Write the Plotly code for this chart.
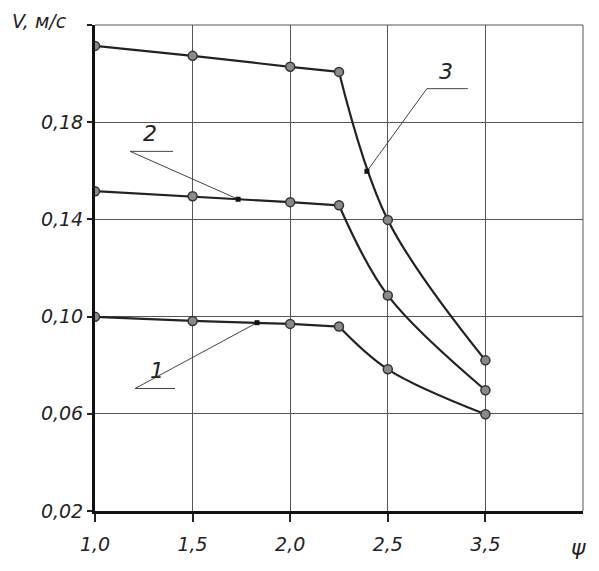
import plotly.graph_objects as go

# psi positions on the chart (last grid line is labelled "3,5" in the source)
psi = [1.0, 1.5, 2.0, 2.25, 2.5, 3.0]
v1 = [0.0999, 0.0982, 0.0970, 0.0959, 0.0783, 0.0598]
v2 = [0.1516, 0.1495, 0.1471, 0.1458, 0.1087, 0.0697]
v3 = [0.2114, 0.2073, 0.2028, 0.2007, 0.1398, 0.0820]

x_tickvals = [1.0, 1.5, 2.0, 2.5, 3.0]
x_ticktext = ["1,0", "1,5", "2,0", "2,5", "3,5"]
y_tickvals = [0.02, 0.06, 0.10, 0.14, 0.18]
y_ticktext = ["0,02", "0,06", "0,10", "0,14", "0,18"]

font = "DejaVu Sans"
line_style = dict(color="#222", width=2.2)

fig = go.Figure()
for v in [v1, v2, v3]:
    # straight part up to the break point, curved part after it
    fig.add_trace(go.Scatter(
        x=psi[:4], y=v[:4], mode="lines", line=line_style,
        showlegend=False, hoverinfo="skip",
    ))
    fig.add_trace(go.Scatter(
        x=psi[3:], y=v[3:], mode="lines",
        line=dict(line_style, shape="spline", smoothing=1.0),
        showlegend=False, hoverinfo="skip",
    ))
    fig.add_trace(go.Scatter(
        x=psi, y=v, mode="markers",
        marker=dict(size=9, color="#8a8a8a", line=dict(color="#333", width=1.5)),
        showlegend=False, hoverinfo="skip",
    ))

# leader lines for curve numbers: (text x, text y, shelf x0, shelf x1, shelf y, tip x, tip y)
leaders = [
    ("1", 1.32, 0.0778, 1.205, 1.41, 0.0704, 1.83, 0.0975),
    ("2", 1.28, 0.1755, 1.18, 1.40, 0.168, 1.733, 0.1483),
    ("3", 2.80, 0.2007, 2.70, 2.91, 0.1938, 2.393, 0.1598),
]
for t, tx, ty, sx0, sx1, sy, px, py in leaders:
    fig.add_trace(go.Scatter(
        x=[sx1, sx0, px], y=[sy, sy, py], mode="lines",
        line=dict(color="#444", width=1), showlegend=False, hoverinfo="skip",
    ))
    fig.add_trace(go.Scatter(
        x=[px], y=[py], mode="markers",
        marker=dict(size=5, color="#111", symbol="square"),
        showlegend=False, hoverinfo="skip",
    ))
    fig.add_annotation(x=tx, y=ty, text="<i>%s</i>" % t, showarrow=False,
                       font=dict(family=font, size=22, color="#222"))

fig.add_annotation(xref="paper", yref="paper", x=-0.175, y=1.034, xanchor="left", yanchor="top",
                   text="<i>V, м/с</i>", showarrow=False,
                   font=dict(family=font, size=19, color="#222"))
fig.add_annotation(xref="paper", yref="paper", x=1.01, y=-0.045, xanchor="right", yanchor="top",
                   text="<i>ψ</i>", showarrow=False,
                   font=dict(family=font, size=22, color="#222"))

fig.update_xaxes(
    range=[1.0, 3.5], tickvals=x_tickvals, ticktext=["<i>%s</i>" % s for s in x_ticktext],
    showgrid=True, gridcolor="#555", gridwidth=1,
    showline=True, linecolor="#111", linewidth=3,
    ticks="outside", ticklen=8, tickwidth=2, tickcolor="#222",
    ticklabelstandoff=6,
    tickfont=dict(family=font, size=19, color="#222"),
    zeroline=False,
)
fig.update_yaxes(
    range=[0.02, 0.22], tickvals=y_tickvals + [0.22],
    ticktext=["<i>%s</i>" % s for s in y_ticktext] + [""],
    showgrid=True, gridcolor="#555", gridwidth=1,
    showline=True, linecolor="#111", linewidth=3,
    ticks="outside", ticklen=5, tickwidth=2, tickcolor="#222",
    tickfont=dict(family=font, size=19, color="#222"),
    zeroline=False,
)
# closing grid lines on top and right
fig.add_shape(type="line", xref="paper", yref="paper", x0=0, x1=1, y0=1, y1=1,
              line=dict(color="#555", width=1))
fig.add_shape(type="line", xref="paper", yref="paper", x0=1, x1=1, y0=0, y1=1,
              line=dict(color="#555", width=1))

fig.update_layout(
    width=583, height=555,
    margin=dict(l=87, r=8, t=17, b=50),
    paper_bgcolor="white", plot_bgcolor="white",
    font=dict(family=font),
)

fig.write_html("out.html")
